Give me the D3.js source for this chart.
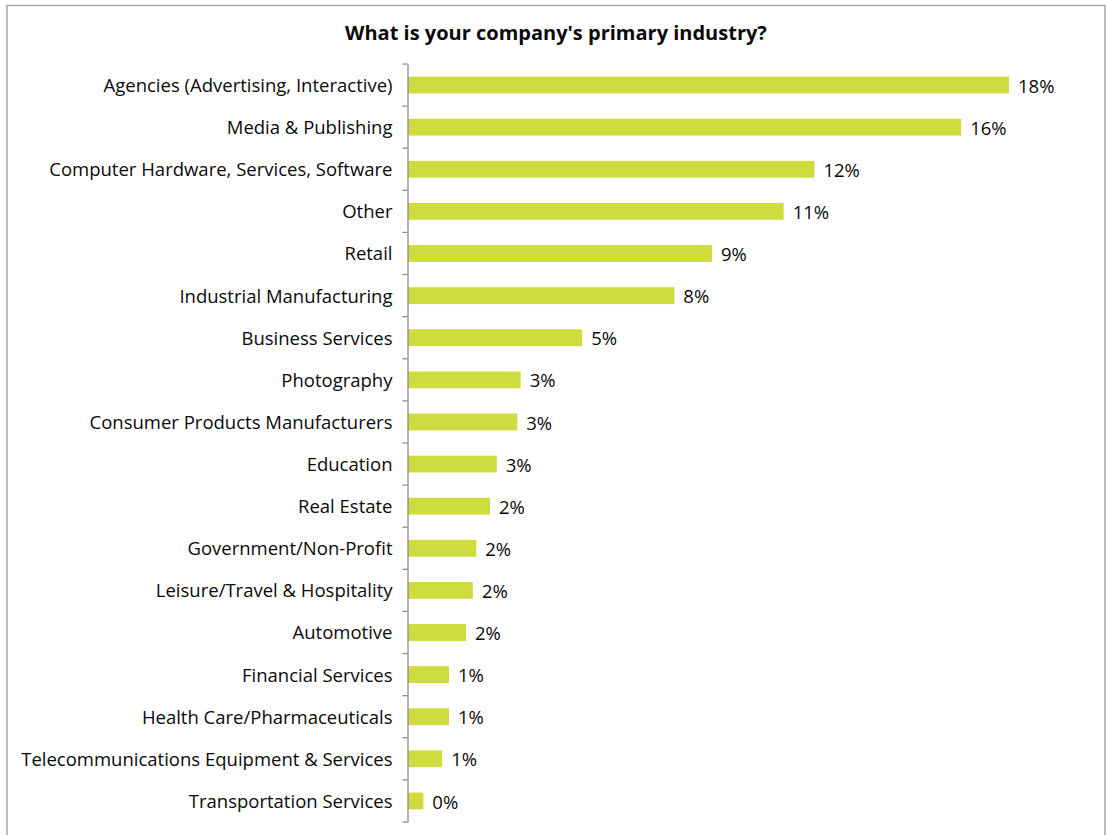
<!DOCTYPE html>
<html>
<head>
<meta charset="utf-8">
<script src="https://cdn.jsdelivr.net/npm/d3@7"></script>
<style>
  html, body { margin: 0; padding: 0; background: #fff; }
  svg { display: block; }
  text { font-family: "Open Sans", "Noto Sans", sans-serif; fill: #0a0a0a; }
</style>
</head>
<body>
<svg id="chart" width="1106" height="835"></svg>
<script>
// Survey responses: share of respondents by primary industry (percent)
const industries = [
  "Agencies (Advertising, Interactive)",
  "Media & Publishing",
  "Computer Hardware, Services, Software",
  "Other",
  "Retail",
  "Industrial Manufacturing",
  "Business Services",
  "Photography",
  "Consumer Products Manufacturers",
  "Education",
  "Real Estate",
  "Government/Non-Profit",
  "Leisure/Travel & Hospitality",
  "Automotive",
  "Financial Services",
  "Health Care/Pharmaceuticals",
  "Telecommunications Equipment & Services",
  "Transportation Services"
];
const shares = [17.6, 16.2, 11.9, 11.0, 8.9, 7.8, 5.1, 3.3, 3.2, 2.6, 2.4, 2.0, 1.9, 1.7, 1.2, 1.2, 1.0, 0.45];
const title = "What is your company's primary industry?";

const data = industries.map((name, i) => ({ name, value: shares[i] }));

const svg = d3.select("#chart");

// outer frame
svg.append("rect")
  .attr("x", 7).attr("y", 5.5)
  .attr("width", 1098).attr("height", 860)
  .attr("fill", "#fff")
  .attr("stroke", "#a6a6a6")
  .attr("stroke-width", 1.5);

svg.append("text")
  .attr("x", 556).attr("y", 40)
  .attr("text-anchor", "middle")
  .style("font-weight", "700")
  .style("font-size", "20px")
  .text(title);

const plotLeft = 407.5, plotTop = 64, plotBottom = 822;

const y = d3.scaleBand()
  .domain(industries)
  .range([plotTop, plotBottom])
  .paddingInner(0.6)
  .paddingOuter(0.3);

const x = d3.scaleLinear()
  .domain([0, 20])
  .range([plotLeft, plotLeft + 683]);

const fmt = d3.format(".0%");

// bars
svg.append("g").selectAll("rect")
  .data(data)
  .join("rect")
  .attr("x", x(0) + 0.5)
  .attr("y", d => y(d.name))
  .attr("width", d => x(d.value) - x(0))
  .attr("height", y.bandwidth())
  .attr("fill", "#cfdc3e");

// value labels
svg.append("g").selectAll("text")
  .data(data)
  .join("text")
  .attr("x", d => x(d.value) + 9.5)
  .attr("y", d => y(d.name) + y.bandwidth() / 2 + 1)
  .attr("dy", "0.36em")
  .style("font-size", "18.5px")
  .text(d => fmt(d.value / 100));

// category axis
const axis = d3.axisLeft(y)
  .tickSizeInner(0)
  .tickSizeOuter(0)
  .tickPadding(15);

const gAxis = svg.append("g")
  .attr("transform", `translate(${plotLeft},1)`)
  .call(axis);
gAxis.select(".domain").attr("transform", "translate(0,-1)")
  .attr("stroke", "#8c8c8c").attr("stroke-width", 1.3);
gAxis.selectAll(".tick text")
  .style("font-size", "18.5px")
  .attr("fill", "#0a0a0a")
  .attr("font-family", null);

// tick marks on band boundaries
const step = (plotBottom - plotTop) / industries.length;
svg.append("g").selectAll("line")
  .data(d3.range(industries.length + 1))
  .join("line")
  .attr("x1", plotLeft - 5).attr("x2", plotLeft)
  .attr("y1", i => plotTop + i * step)
  .attr("y2", i => plotTop + i * step)
  .attr("stroke", "#8c8c8c")
  .attr("stroke-width", 1.3);
</script>
</body>
</html>
